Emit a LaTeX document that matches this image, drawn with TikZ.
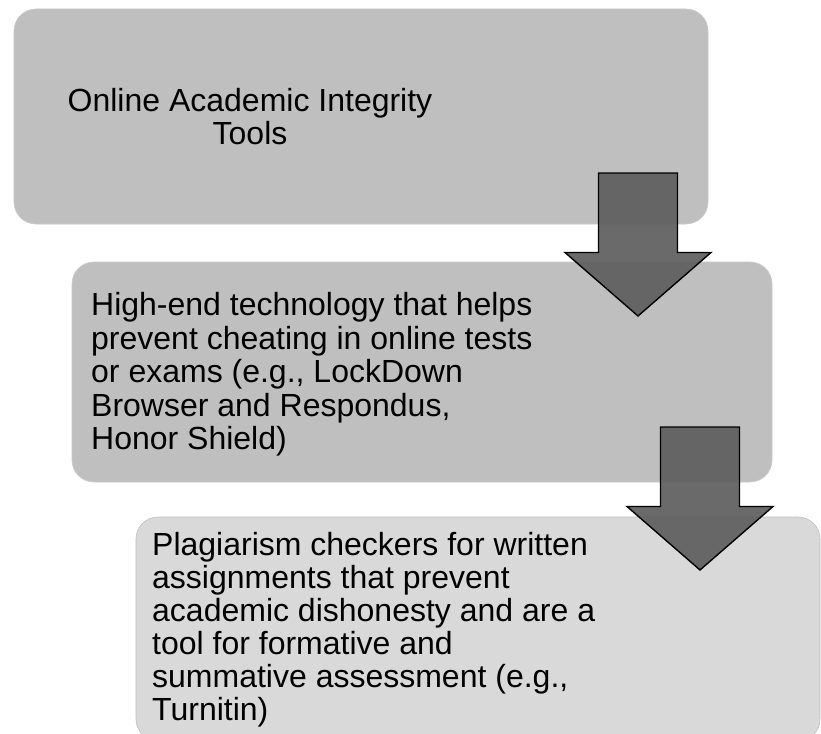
\documentclass[tikz,border=0pt]{standalone}
\usepackage{fontspec}
\setmainfont{Liberation Sans}
\usetikzlibrary{positioning,calc}

\definecolor{boxgray}{HTML}{BFBFBF}
\definecolor{lightgray}{HTML}{D9D9D9}
\definecolor{arrowgray}{HTML}{5E5E5E}

\begin{document}
\begin{tikzpicture}[
x=1pt,y=-1pt,
stepbox/.style={
  rectangle,
  rounded corners=22pt,
  fill=boxgray,
  draw=boxgray!85!white,
  line width=0.6pt,
  inner sep=0pt},
lastbox/.style={
  stepbox,
  fill=lightgray,
  draw=boxgray},
boxtext/.style={
  inner sep=0pt,
  font=\fontsize{32pt}{33pt}\selectfont},
downarrow/.style={
  draw=black,
  line width=1.4pt,
  line join=miter,
  fill=arrowgray,
  fill opacity=0.92}
]
\useasboundingbox (0,0) rectangle (821,733);
\fill[white] (0,0) rectangle (821,733);
\node[stepbox, minimum width=694pt, minimum height=215pt] (tools) at (361,116.5) {};
\node[stepbox, minimum width=700pt, minimum height=220pt] (exams) at (422,372) {};
\node[lastbox, minimum width=684pt, minimum height=224pt] (essays) at (478,629) {};
\node[boxtext, anchor=north, align=center] (toolstext) at (250,88)
  {Online Academic Integrity\\Tools};
\node[boxtext, anchor=north west, align=left,
  font=\fontsize{32pt}{33.5pt}\selectfont] (examstext) at (91,292.5)
  {High-end technology that helps\\prevent cheating in online tests\\or exams (e.g., LockDown\\Browser and Respondus,\\Honor Shield)};
\node[boxtext, anchor=north west, align=left] (essaystext) at (152,532.5)
  {Plagiarism checkers for written\\assignments that prevent\\academic dishonesty and are a\\tool for formative and\\summative assessment (e.g.,\\Turnitin)};
% block arrows, top of shaft given
\coordinate (A1) at (638,173);
\coordinate (A2) at (700,427);
\foreach \Top in {A1,A2}
  \draw[downarrow]
    ($(\Top)+(-39.5,0)$) -- ($(\Top)+(39.5,0)$) --
    ($(\Top)+(39.5,79.5)$) -- ($(\Top)+(73,79.5)$) --
    ($(\Top)+(0,143)$) -- ($(\Top)+(-73,79.5)$) --
    ($(\Top)+(-39.5,79.5)$) -- cycle;
\end{tikzpicture}
\end{document}
